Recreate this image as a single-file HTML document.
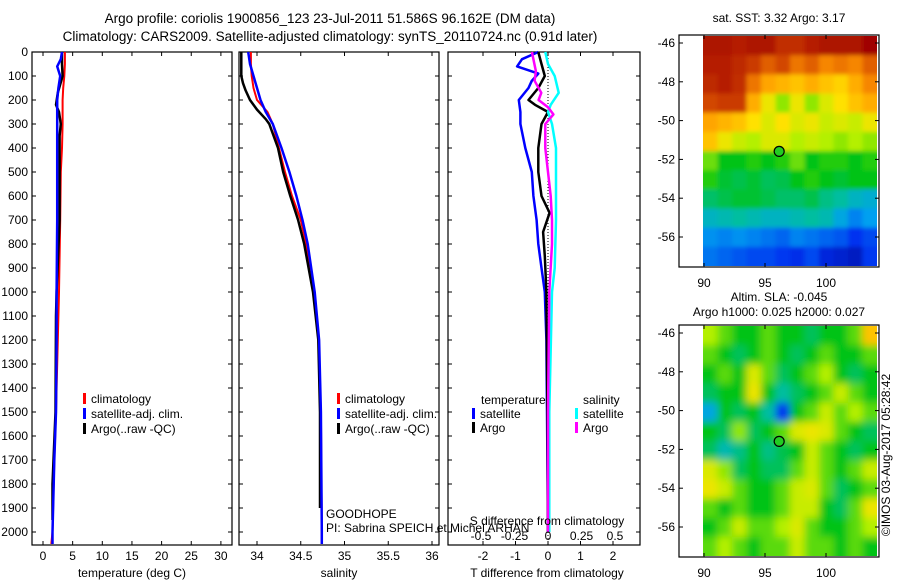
<!DOCTYPE html>
<html><head><meta charset="utf-8"><style>
html,body{margin:0;padding:0;background:#fff;}
svg{display:block;font-family:"Liberation Sans",sans-serif;}
text{font-size:12px;fill:#000;}
</style></head><body>
<svg id="fig" width="900" height="580" xmlns="http://www.w3.org/2000/svg">
<defs>
<filter id="blurTop" x="-5%" y="-5%" width="110%" height="110%"><feGaussianBlur stdDeviation="2"/></filter>
<filter id="blurBot" x="-5%" y="-5%" width="110%" height="110%"><feGaussianBlur stdDeviation="4"/></filter>
<clipPath id="clipTop"><rect x="703" y="36" width="174" height="230"/></clipPath>
<clipPath id="clipBot"><rect x="703" y="326" width="174" height="230"/></clipPath>
</defs>
<text x="330" y="23" text-anchor="middle" style="font-size:13.5px">Argo profile: coriolis 1900856_123 23-Jul-2011 51.586S 96.162E (DM data)</text>
<text x="330" y="41" text-anchor="middle" style="font-size:13.5px">Climatology: CARS2009. Satellite-adjusted climatology: synTS_20110724.nc (0.91d later)</text>
<g id="g1"></g>
<g id="g2"></g>
<g id="g3"></g>
<g id="gm1"></g>
<g id="gm2"></g>
<text x="779" y="22" text-anchor="middle">sat. SST: 3.32 Argo: 3.17</text>
<text x="779" y="301" text-anchor="middle">Altim. SLA: -0.045</text>
<text x="779" y="316" text-anchor="middle">Argo h1000: 0.025 h2000: 0.027</text>
<text transform="translate(890,455) rotate(-90)" text-anchor="middle">©IMOS 03-Aug-2017 05:28:42</text>
</svg>
<script>
// ---- data ----
const depthTicks=[0,100,200,300,400,500,600,700,800,900,1000,1100,1200,1300,1400,1500,1600,1700,1800,1900,2000];
const tTicks=[0,5,10,15,20,25,30];
const sTicks=[34,34.5,35,35.5,36];
const dtTicks=[-2,-1,0,1,2];
const dsTicks=[-0.5,-0.25,0,0.25,0.5];
const dsTickLabels=["-0.5","-0.25","0","0.25","0.5"];

const tClimDepth=[0,50,100,150,200,250,300,400,500,700,1000,1200,1500,1700,1900,2000,2050];
const tClim=[3.7,3.7,3.6,3.4,3.3,3.3,3.3,3.2,3.0,2.9,2.7,2.5,2.2,1.9,1.7,1.6,1.4];
const tSatDepth=[0,30,60,100,150,200,300,500,700,1000,1200,1500,1700,1900,2000,2050];
const tSat=[3.2,3.0,2.4,2.9,2.6,2.4,2.4,2.4,2.4,2.3,2.3,2.2,1.9,1.7,1.6,1.6];
const tArgoDepth=[0,50,100,170,220,250,300,350,500,700,1000,1100,1500,1800,1950];
const tArgo=[3.2,3.2,3.3,2.5,2.2,2.7,3.0,2.8,2.8,2.8,2.3,2.2,2.1,1.6,1.6];

const sClimDepth=[0,50,100,150,200,250,300,400,500,600,700,800,1000,1200,1500,2000,2050];
const sClim=[33.93,33.93,33.94,33.96,34.0,34.12,34.18,34.25,34.32,34.4,34.5,34.56,34.65,34.7,34.73,34.74,34.74];
const sSatDepth=[0,50,100,150,200,250,300,400,500,600,700,800,1000,1200,1500,2000,2050];
const sSat=[33.9,33.92,33.96,34.0,34.04,34.1,34.18,34.28,34.37,34.45,34.52,34.58,34.66,34.71,34.73,34.74,34.74];
const sArgoDepth=[0,20,100,130,160,200,240,280,300,400,500,600,700,800,1000,1200,1500,1900];
const sArgo=[33.82,33.82,33.82,33.84,33.87,33.92,34.0,34.1,34.14,34.24,34.3,34.38,34.47,34.54,34.64,34.7,34.72,34.72];

const dtSatDepth=[0,30,60,90,120,150,200,250,300,400,500,600,700,800,900,1000,1200,1500,2000];
const dtSat=[-0.3,-0.8,-0.95,-0.3,-0.5,-0.6,-0.9,-0.85,-0.85,-0.7,-0.5,-0.45,-0.35,-0.3,-0.2,-0.1,-0.05,-0.03,0.0];
const dtArgoDepth=[0,50,100,150,200,220,250,300,350,400,500,600,670,750,850,1000,1500,2000];
const dtArgo=[-0.3,-0.2,-0.1,-0.3,-0.6,-0.4,0.0,-0.2,-0.25,-0.3,-0.3,-0.2,0.05,-0.15,-0.1,-0.05,-0.02,0.0];
const dsArgoDepth=[0,80,120,170,200,230,260,300,400,500,600,700,800,1000,1500,2000];
const dsArgo=[-0.12,-0.09,-0.1,-0.05,-0.07,0.0,0.04,-0.02,-0.02,0.0,0.02,0.03,0.03,0.01,0.0,0.0];
const dsSatDepth=[0,50,100,170,220,250,300,400,500,700,900,1000,1500,2000];
const dsSat=[-0.02,0.0,0.05,0.08,0.02,0.0,0.03,0.06,0.06,0.06,0.05,0.03,0.01,0.01];

const sstGrid=[
[.97,.97,.95,.97,.97,.92,.92,.95,.97,.97,.97,1],
[.95,.95,.93,.9,.85,.88,.82,.85,.8,.82,.8,.85],
[.93,.95,.92,.82,.76,.74,.72,.75,.72,.7,.75,.8],
[.88,.9,.9,.75,.66,.58,.66,.58,.64,.68,.72,.75],
[.76,.74,.72,.68,.64,.68,.64,.66,.62,.64,.62,.66],
[.72,.66,.62,.6,.64,.64,.6,.62,.6,.58,.6,.58],
[.56,.5,.5,.52,.5,.52,.56,.5,.52,.52,.5,.52],
[.52,.48,.46,.48,.45,.46,.5,.52,.5,.48,.5,.5],
[.44,.46,.48,.48,.46,.44,.44,.46,.42,.4,.36,.34],
[.36,.38,.4,.38,.36,.36,.38,.4,.38,.32,.26,.3],
[.28,.26,.28,.26,.24,.22,.26,.24,.22,.2,.15,.18],
[.24,.22,.2,.18,.18,.16,.14,.18,.12,.1,.08,.16]];
const slaGrid=[
[.6,.55,.5,.5,.55,.5,.5,.45,.5,.5,.55,.72],
[.55,.5,.45,.5,.55,.5,.45,.5,.55,.5,.5,.55],
[.5,.55,.5,.64,.55,.45,.5,.55,.6,.5,.45,.5],
[.45,.5,.5,.66,.5,.4,.45,.5,.55,.62,.55,.5],
[.32,.5,.45,.5,.4,.15,.5,.55,.62,.55,.6,.55],
[.5,.45,.58,.45,.5,.55,.64,.66,.64,.55,.5,.45],
[.45,.38,.42,.5,.42,.46,.5,.62,.55,.5,.45,.5],
[.64,.58,.45,.5,.45,.45,.55,.62,.55,.5,.55,.62],
[.66,.62,.55,.5,.5,.55,.62,.64,.55,.45,.5,.55],
[.55,.5,.55,.5,.5,.55,.62,.62,.5,.45,.55,.66],
[.5,.55,.62,.55,.55,.6,.64,.55,.5,.5,.55,.6],
[.55,.6,.55,.5,.55,.55,.62,.55,.55,.5,.55,.5]];
const lonTicks=[90,95,100];
const latTicks=[-46,-48,-50,-52,-54,-56];
const argoLon=96.162, argoLat=-51.586;

// ---- helpers ----
const NS="http://www.w3.org/2000/svg";
function mk(parent,tag,attrs){const e=document.createElementNS(NS,tag);for(const k in attrs)e.setAttribute(k,attrs[k]);parent.appendChild(e);return e;}
const yD=d=>52+d*0.24;
const xT=v=>43+v*5.93;
const xS=v=>257+(v-34)*87.5;
const xDT=v=>548+v*32.5;
const xDS=v=>548+v*134;

function frame(g,x0,x1,name){
  const r=mk(g,'rect',{x:x0,y:52,width:x1-x0,height:493,fill:'none',stroke:'#000','stroke-width':1.2});
  
  
  depthTicks.forEach(d=>{
    mk(g,'line',{x1:x0,x2:x0+4,y1:yD(d),y2:yD(d),stroke:'#000'});
    mk(g,'line',{x1:x1,x2:x1-4,y1:yD(d),y2:yD(d),stroke:'#000'});
  });
}
function xticks(g,ticks,fx,labels,name){
  ticks.forEach((v,i)=>{
    const x=fx(v);
    mk(g,'line',{x1:x,x2:x,y1:545,y2:541,stroke:'#000'});
    mk(g,'line',{x1:x,x2:x,y1:52,y2:56,stroke:'#000'});
    const t=mk(g,'text',{x:x,y:560,'text-anchor':'middle'});
    t.textContent=labels?labels[i]:String(v);
    
    
  });
}
function line(g,vals,depths,fx,color,w,name){
  const p=vals.map((v,i)=>(i?'L':'M')+fx(v).toFixed(1)+','+yD(depths[i]).toFixed(1)).join('');
  const e=mk(g,'path',{d:p,fill:'none',stroke:color,'stroke-width':w,'stroke-linejoin':'round'});
  
  
}
function txt(g,x,y,s,name,anchor){
  const t=mk(g,'text',{x:x,y:y,'text-anchor':anchor||'start'});t.textContent=s;
  
  
  return t;
}
function legend(g,x,y,color,label,name){
  const r=mk(g,'rect',{x:x,y:y-10,width:3,height:11,fill:color});
  
  
  txt(g,x+8,y,label,name);
}

// ---- panel 1 ----
const g1=document.getElementById('g1');
frame(g1,32,232,'temperature-plot-frame');
depthTicks.forEach(d=>txt(g1,28,yD(d)+4,String(d),'depth-tick-label','end'));
xticks(g1,tTicks,xT,null,'temperature-tick-label');
txt(g1,132,577,'temperature (deg C)','temperature-axis-title','middle');
line(g1,tClim,tClimDepth,xT,'#f00',2,'temperature-climatology-line');
line(g1,tArgo,tArgoDepth,xT,'#000',2.5,'temperature-argo-line');
line(g1,tSat,tSatDepth,xT,'#00f',2.5,'temperature-satellite-line');
legend(g1,83,403,'#f00','climatology','legend-climatology');
legend(g1,83,418,'#00f','satellite-adj. clim.','legend-satellite');
legend(g1,83,433,'#000','Argo(..raw -QC)','legend-argo');

// ---- panel 2 ----
const g2=document.getElementById('g2');
frame(g2,239,439,'salinity-plot-frame');
xticks(g2,sTicks,xS,null,'salinity-tick-label');
txt(g2,339,577,'salinity','salinity-axis-title','middle');
line(g2,sClim,sClimDepth,xS,'#f00',2,'salinity-climatology-line');
line(g2,sArgo,sArgoDepth,xS,'#000',2.5,'salinity-argo-line');
line(g2,sSat,sSatDepth,xS,'#00f',2.5,'salinity-satellite-line');
legend(g2,337,403,'#f00','climatology','legend-climatology');
legend(g2,337,418,'#00f','satellite-adj. clim.','legend-satellite');
legend(g2,337,433,'#000','Argo(..raw -QC)','legend-argo');

// ---- panel 3 ----
const g3=document.getElementById('g3');
frame(g3,448,640,'difference-plot-frame');
xticks(g3,dtTicks,xDT,null,'t-difference-tick-label');
txt(g3,547,577,'T difference from climatology','t-difference-axis-title','middle');
mk(g3,'line',{x1:548,x2:548,y1:52,y2:545,stroke:'#000','stroke-dasharray':'1,2'});
line(g3,dtSat,dtSatDepth,xDT,'#00f',2.5,'t-diff-satellite-line');
line(g3,dtArgo,dtArgoDepth,xDT,'#000',2.5,'t-diff-argo-line');
line(g3,dsSat,dsSatDepth,xDS,'#0ff',2.5,'s-diff-satellite-line');
line(g3,dsArgo,dsArgoDepth,xDS,'#f0f',2.5,'s-diff-argo-line');
txt(g3,481,404,'temperature','legend-temperature-heading');
txt(g3,583,404,'salinity','legend-salinity-heading');
legend(g3,472,418,'#00f','satellite','legend-t-satellite');
legend(g3,472,432,'#000','Argo','legend-t-argo');
legend(g3,575,418,'#0ff','satellite','legend-s-satellite');
legend(g3,575,432,'#f0f','Argo','legend-s-argo');
txt(g3,547,525,'S difference from climatology','s-difference-axis-title','middle');
dsTicks.forEach((v,i)=>txt(g3,xDS(v),540,dsTickLabels[i],'s-difference-tick-label','middle'));

// GOODHOPE
txt(g2,326,518,'GOODHOPE','project-label');
txt(g2,326,532,'PI: Sabrina SPEICH et Michel ARHAN','pi-label');

// ---- maps ----
const stops=[[0,[0,0,140]],[.15,[0,50,240]],[.3,[0,160,240]],[.4,[0,190,160]],[.5,[0,195,20]],[.6,[180,240,0]],[.68,[255,225,0]],[.78,[255,150,0]],[.88,[210,70,0]],[1,[160,0,0]]];
function cmap(v){
  for(let i=1;i<stops.length;i++){if(v<=stops[i][0]){const a=stops[i-1],b=stops[i],t=(v-a[0])/(b[0]-a[0]);
    return 'rgb('+a[1].map((c,j)=>Math.round(c+(b[1][j]-c)*t)).join(',')+')';}}
  return 'rgb(160,0,0)';
}
function map(gid,grid,top,clip,filt,name){
  const g=document.getElementById(gid);
  const x0=703,x1=877,yT=top+8,dy=19.4;
  const lonX=l=>704+(l-90)*12.2;
  const latY=l=>yT+(-46-l)*dy;
  mk(g,'rect',{x:679,y:top,width:200,height:232,fill:'#fff',stroke:'none'});
  const cg=mk(g,'g',{'clip-path':'url(#'+clip+')'});
  const ig=mk(cg,'g',{filter:'url(#'+filt+')'});
  const rows=grid.length,cols=grid[0].length,cw=(x1-x0)/cols,ch=230/rows;
  grid.forEach((row,r)=>row.forEach((v,c)=>{
    const e=mk(ig,'rect',{x:x0+c*cw-(c==0?8:0),y:top+1+r*ch-(r==0?8:0),width:cw+1+(c==0?8:0)+(c==cols-1?8:0),height:ch+1+(r==0?8:0)+(r==rows-1?8:0),fill:cmap(v)});
    
    
  }));
  const f=mk(g,'rect',{x:679,y:top,width:200,height:232,fill:'none',stroke:'#000','stroke-width':1.2});
  
  
  latTicks.forEach(l=>{const y=latY(l);
    mk(g,'line',{x1:679,x2:683,y1:y,y2:y,stroke:'#000'});
    mk(g,'line',{x1:879,x2:875,y1:y,y2:y,stroke:'#000'});
    txt(g,675,y+4,String(l),name+'-lat-label','end');});
  lonTicks.forEach(l=>{const x=lonX(l);
    mk(g,'line',{x1:x,x2:x,y1:top,y2:top+4,stroke:'#000'});
    mk(g,'line',{x1:x,x2:x,y1:top+232,y2:top+228,stroke:'#000'});
    txt(g,x,top+252,String(l),name+'-lon-label','middle');});
  const c=mk(g,'ellipse',{cx:lonX(argoLon),cy:latY(argoLat),rx:5,ry:5,fill:'#2c2',stroke:'#000','stroke-width':1.2});
  
  
}
map('gm1',sstGrid,35,'clipTop','blurTop','sst-map');
map('gm2',slaGrid,325,'clipBot','blurBot','sla-map');
</script>
</body></html>
